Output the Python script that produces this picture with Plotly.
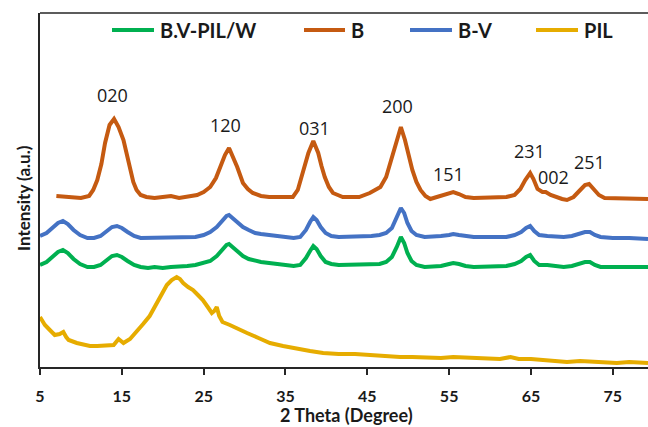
import plotly.graph_objects as go

# ---------------- data (arbitrary intensity units) -------------
theta_B = [7.0, 8.0, 9.0, 10.0, 11.0, 11.5, 12.0, 12.5, 12.95, 13.5, 14.05, 14.6, 15.2, 15.6, 16.0,
           16.4, 16.8, 17.3, 18, 19, 20, 21, 22, 23, 24.2, 25.0, 25.8, 26.5, 27.0, 27.6, 28.1,
           28.6, 29.1, 29.8, 30.4, 31.0, 32, 33, 34, 35, 35.9, 36.5, 37.0, 37.4, 37.8, 38.4,
           39.0, 39.4, 39.8, 40.3, 40.8, 42, 43, 44, 45.3, 46.6, 47.3, 47.8, 48.3, 48.6, 49.1,
           49.6, 50.0, 50.5, 51.0, 51.5, 52.1, 52.7, 53.5, 54.3, 55.0, 55.5, 56.2, 57, 58, 59,
           60, 61, 62, 63, 63.7, 64.3, 64.9, 65.3, 65.8, 66.4, 66.8, 67.4, 68, 68.8, 69.4, 70.2,
           70.9, 71.6, 72.1, 72.7, 73.3, 74, 75, 76, 77, 78, 79.3]
int_B = [171, 170, 169, 169, 171, 177, 187, 203, 224, 242, 248, 240, 227, 212, 197,
         185, 177, 172, 170, 169, 170, 171, 169, 170, 172, 175, 180, 189, 200, 212, 219,
         210, 200, 184, 178, 174, 171, 170, 170, 170, 170, 177, 190, 202, 214, 226,
         214, 201, 190, 180, 174, 170, 170, 170, 174, 180, 190, 204, 217, 227, 240,
         227, 212, 197, 185, 177, 171, 168, 170, 172, 174, 175, 173, 170, 169, 169,
         169, 169, 170, 172, 178, 187, 194, 188, 178, 175, 175, 172, 170, 168, 167, 170,
         176, 182, 183, 178, 172, 169, 169, 169, 169, 168, 168]

theta_BV = [5.0, 5.8, 6.5, 7.2, 7.8, 8.4, 9.1, 9.9, 10.8, 11.6, 12.4, 13.2, 13.8, 14.4, 15.0,
            15.7, 16.5, 17.3, 18.2, 19, 20, 21, 22, 23, 24, 25, 25.8, 26.6, 27.3, 27.8, 28.1,
            28.5, 29.1, 29.8, 30.5, 31.3, 32, 33, 34, 35, 36, 36.8, 37.5, 38.0, 38.4, 38.8, 39.3,
            39.9, 40.6, 41.5, 42.5, 43.5, 44.5, 45.5, 46.5, 47.3, 48.0, 48.6, 49.1, 49.5, 49.9,
            50.4, 51, 52, 53, 54, 55, 55.5, 56.2, 57, 58, 59, 60, 61, 62, 63, 63.8, 64.4, 64.9,
            65.4, 66, 67, 68, 69, 70, 70.9, 71.6, 72.2, 72.8, 73.5, 75, 77, 79.3]
int_BV = [131, 134, 139, 144, 146, 143, 137, 132, 129, 129, 131, 136, 140, 141, 139,
          135, 131, 129, 129, 130, 129, 129, 129, 129, 130, 132, 135, 140, 146, 151, 152,
          149, 144, 140, 137, 134, 133, 132, 131, 130, 129, 130, 137, 145, 150, 147, 140,
          134, 131, 130, 130, 130, 130, 131, 132, 134, 139, 149, 159, 154, 144,
          136, 132, 130, 130, 131, 132, 133, 132, 131, 130, 130, 130, 130, 130, 132, 135, 139, 141,
          136, 132, 131, 130, 130, 131, 133, 135, 135, 132, 130, 129, 129, 128]

theta_BVPW = theta_BV
int_BVPW = [102, 105, 110, 115, 117, 114, 108, 103, 100, 100, 102, 107, 111, 112, 110,
            106, 102, 100, 99, 100, 99, 100, 100, 101, 102, 104, 106, 111, 117, 122, 123,
            120, 115, 111, 108, 106, 105, 104, 103, 102, 101, 102, 109, 116, 121, 118, 111,
            105, 103, 102, 102, 102, 102, 102, 103, 105, 110, 120, 130, 124, 114,
            106, 102, 100, 100, 101, 103, 104, 103, 101, 100, 100, 100, 101, 101, 103, 106, 110, 112,
            106, 102, 102, 101, 100, 101, 103, 105, 105, 102, 100, 100, 100, 100]

theta_PIL = [5.0, 5.6, 6.2, 6.8, 7.4, 7.85, 8.2, 8.5, 9.5, 10.3, 11.1, 12.0, 13.0, 14.0, 14.6,
             15.2, 16.0, 16.8, 17.6, 18.4, 19.1, 19.7, 20.5, 21.1, 21.7, 22.1, 22.5, 23.1, 23.7,
             24.3, 24.9, 25.5, 26.0, 26.3, 26.6, 26.9, 27.3, 28.2, 29.1, 30.3, 31.7, 33.1, 34.7,
             36.4, 38.0, 39.6, 41.5, 43.5, 45.0, 47.0, 49.0, 50.5, 52.3, 54.0, 55.5, 57.5, 59.5,
             61.2, 62.5, 63.5, 65.0, 66.5, 68.0, 69.4, 71.0, 72.5, 74.0, 75.5, 77.0, 79.3]
int_PIL = [50, 42, 37, 32, 33, 35, 30, 27, 24, 22, 21, 21, 22, 22, 28,
           24, 28, 35, 43, 51, 61, 70, 82, 87, 90, 88, 84, 80, 77,
           72, 67, 60, 54, 56, 60, 51, 45, 42, 39, 34, 29, 24, 21,
           18, 16, 14, 13, 13, 12, 11, 10, 10, 9, 9, 10, 9, 8,
           8, 10, 8, 8, 7, 6, 5, 6, 5, 5, 4, 5, 4]

peak_labels = ["020", "120", "031", "200", "151", "231", "002", "251"]
peak_label_x = [13.8, 27.7, 38.6, 48.7, 54.9, 64.8, 67.7, 72.1]
peak_label_y = [272, 242, 239, 261, 193, 216, 190, 205]

series_names = ["B.V-PIL/W", "B", "B-V", "PIL"]
series_colors = ["#00B050", "#C55A11", "#4472C4", "#E6AC00"]

x_ticks = [5, 15, 25, 35, 45, 55, 65, 75]

# ---------------- figure ----------------
fig = go.Figure()
series = [(theta_BVPW, int_BVPW), (theta_B, int_B), (theta_BV, int_BV), (theta_PIL, int_PIL)]
for (xs, ys), name, col in zip(series, series_names, series_colors):
    fig.add_trace(go.Scatter(x=xs, y=ys, mode="lines", name=name, showlegend=False,
                             line=dict(color=col, width=4)))

plot_left, plot_right, plot_top, plot_bottom = 40, 648, 13, 367
pw = plot_right - plot_left
ph = plot_bottom - plot_top

def px_x(p):
    return (p - plot_left) / pw

def px_y(p):
    return (plot_bottom - p) / ph

BOLD = "Lato"
annotations = []
for t, xv, yv in zip(peak_labels, peak_label_x, peak_label_y):
    annotations.append(dict(x=xv, y=yv, xref="x", yref="y", text=t, showarrow=False,
                            font=dict(family="Open Sans", size=18, color="#1a1a1a")))

# legend drawn as line samples and text at top of plot
legend_line_x = [(112, 154), (304, 345), (410, 452), (536, 578)]
shapes = []
for (a, b), name, col in zip(legend_line_x, series_names, series_colors):
    shapes.append(dict(type="line", xref="paper", yref="paper", x0=px_x(a), x1=px_x(b),
                       y0=px_y(30), y1=px_y(30), line=dict(color=col, width=4)))
    annotations.append(dict(x=px_x(b + 4), y=px_y(30), xref="paper", yref="paper", text=name,
                            xanchor="left", yanchor="middle", showarrow=False,
                            font=dict(family=BOLD, size=20, color="#1a1a1a", weight="bold")))

# top border of the frame
shapes.append(dict(type="line", xref="paper", yref="paper", x0=0, x1=1, y0=1, y1=1,
                   line=dict(color="#262626", width=1.5)))

annotations.append(dict(x=0.5 * (px_x(276) + px_x(417)), y=px_y(415), xref="paper", yref="paper",
                        text="2 Theta (Degree)", showarrow=False, yanchor="middle",
                        font=dict(family=BOLD, size=18, color="#1a1a1a", weight="bold")))
annotations.append(dict(x=px_x(23), y=px_y(198), xref="paper", yref="paper",
                        text="Intensity (a.u.)", showarrow=False, textangle=-90,
                        xanchor="center", yanchor="middle",
                        font=dict(family=BOLD, size=17, color="#1a1a1a", weight="bold")))

fig.update_layout(
    width=648, height=427,
    margin=dict(l=plot_left, r=0, t=plot_top, b=427 - plot_bottom, pad=0),
    paper_bgcolor="white", plot_bgcolor="white",
    xaxis=dict(range=[5, 79.3], tickvals=x_ticks, ticktext=[str(v) for v in x_ticks],
               showline=True, linecolor="#262626", linewidth=1.5, ticks="outside", ticklen=6,
               tickcolor="#262626", tickwidth=1.5, showgrid=False, zeroline=False,
               ticklabelstandoff=8,
               tickfont=dict(family=BOLD, size=16, color="#1a1a1a", weight="bold")),
    yaxis=dict(range=[0, 354], showline=True, linecolor="#262626", linewidth=1.5,
               showticklabels=False, ticks="", showgrid=False, zeroline=False),
    annotations=annotations, shapes=shapes, showlegend=False,
)

fig.write_html("out.html", config={"displayModeBar": False},
               post_script="document.body.style.margin='0px';document.body.style.overflow='hidden';")
